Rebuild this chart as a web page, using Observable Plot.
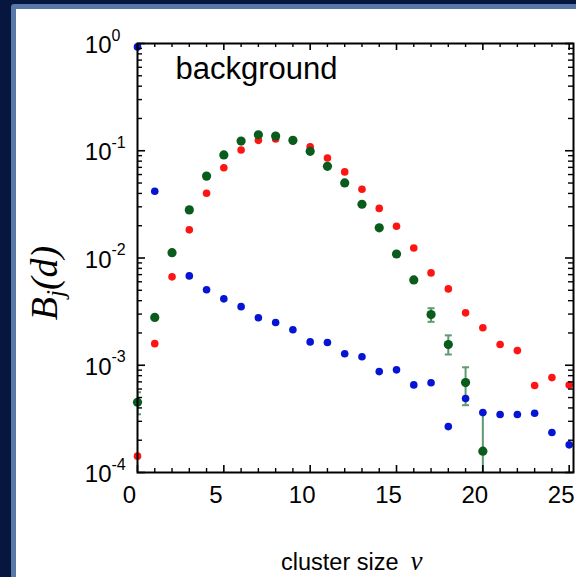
<!DOCTYPE html>
<html><head><meta charset="utf-8">
<script src="https://cdn.jsdelivr.net/npm/d3@7"></script>
<script src="https://cdn.jsdelivr.net/npm/@observablehq/plot@0.6"></script>
<style>
html,body{margin:0;padding:0;background:#06163e;}
#wrap{position:relative;width:576px;height:577px;overflow:hidden;background:#06163e;}
#strip{position:absolute;left:11px;top:4px;right:0;bottom:0;background:#5878a6;border-top-left-radius:3px;}
#panel{position:absolute;left:16px;top:9px;right:0;bottom:0;background:#fff;}
#chart{position:absolute;left:0;top:0;}
</style></head><body>
<div id="wrap"><div id="strip"></div><div id="panel"></div><div id="chart"></div></div>
<script>
// cluster size (x)
const clusterSize = [0,1,2,3,4,5,6,7,8,9,10,11,12,13,14,15,16,17,18,19,20,21,22,23,24,25];
// blue series
const blueVals = [0.93,0.0419,null,0.00681,0.00505,0.00416,0.00352,0.00277,0.0025,0.00214,0.00165,0.00163,0.00128,0.0012,0.000873,0.000906,0.000656,0.000686,0.000268,0.00049,0.000362,0.000347,0.000347,0.000357,0.000236,0.000181];
// red series
const redVals = [0.000142,0.00159,0.00667,0.0183,0.0401,0.0695,0.1017,0.125,0.129,0.123,0.109,0.0857,0.0635,0.0437,0.029,0.0198,0.0124,0.00726,0.00515,0.00308,0.00224,0.00156,0.00137,0.000647,0.000767,0.000655];
// green series (background)
const greenVals = [0.000452,0.00279,0.0112,0.0281,0.058,0.0914,0.123,0.141,0.137,0.125,0.0987,0.0716,0.0501,0.0317,0.0191,0.0109,0.00625,0.00297,0.00156,0.00069,0.000158];
// green error bars
const errX = [0,17,18,19,20];
const errLo = [0.000349,0.00254,0.00126,0.000424,0.00003];
const errHi = [0.00056,0.0034,0.0019,0.000957,0.000362];
// ticks
const xMajor = [0,5,10,15,20,25];
const xMinor = [1,2,3,4,6,7,8,9,11,12,13,14,16,17,18,19,21,22,23,24];
const yMajor = [1e-4,1e-3,1e-2,1e-1,1];
const yExp = ["-4","-3","-2","-1","0"];
const yMinor = [2,3,4,5,6,7,8,9].flatMap(m => [1e-4,1e-3,1e-2,1e-1].map(p => m*p));

const W=576,H=577,mL=137,mR=3,mT=43,mB=105;
const pw=W-mL-mR, ph=H-mT-mB;
const rows = vals => clusterSize.map((x,i)=>({x, v: vals[i]})).filter(d => d.v != null);
const errRows = errX.map((x,i)=>({x, lo: errLo[i], hi: errHi[i]}));
const cap = {draw(ctx){ ctx.moveTo(-3.5,0); ctx.lineTo(3.5,0); }};
const sans = "Liberation Sans, Arial, sans-serif";

const chart = Plot.plot({
  width: W, height: H,
  marginLeft: mL, marginRight: mR, marginTop: mT, marginBottom: mB,
  style: {background: "transparent", fontFamily: sans, overflow: "visible"},
  x: {domain: [0, 25.25], axis: null},
  y: {type: "log", domain: [1e-4, 1], axis: null},
  marks: [
    // error bars
    Plot.ruleX(errRows, {x: "x", y1: "lo", y2: "hi", stroke: "#5f9a70", strokeWidth: 2, clip: true}),
    Plot.dot(errRows, {x: "x", y: "lo", symbol: cap, stroke: "#5f9a70", strokeWidth: 2, fill: "none", clip: true}),
    Plot.dot(errRows, {x: "x", y: "hi", symbol: cap, stroke: "#5f9a70", strokeWidth: 2, fill: "none", clip: true}),
    // series
    Plot.dot(rows(redVals), {x: "x", y: "v", r: 3.8, fill: "#ff1414"}),
    Plot.dot(rows(greenVals), {x: "x", y: "v", r: 4.6, fill: "#0a5c1c"}),
    Plot.dot(rows(blueVals), {x: "x", y: "v", r: 3.8, fill: "#0614d4"}),
    // frame
    Plot.frame({stroke: "black", strokeWidth: 2}),
    // inward ticks
    Plot.tickY(yMajor, {y: d => d, insetRight: pw - 8, stroke: "black", strokeWidth: 1.6}),
    Plot.tickY(yMinor, {y: d => d, insetRight: pw - 5, stroke: "black", strokeWidth: 1.4}),
    Plot.tickY(yMajor, {y: d => d, insetLeft: pw - 8, stroke: "black", strokeWidth: 1.6}),
    Plot.tickY(yMinor, {y: d => d, insetLeft: pw - 5, stroke: "black", strokeWidth: 1.4}),
    Plot.tickX(xMajor, {x: d => d, insetTop: ph - 7, stroke: "black", strokeWidth: 1.6}),
    Plot.tickX(xMinor, {x: d => d, insetTop: ph - 4, stroke: "black", strokeWidth: 1.4}),
    Plot.tickX(xMajor, {x: d => d, insetBottom: ph - 7, stroke: "black", strokeWidth: 1.6}),
    Plot.tickX(xMinor, {x: d => d, insetBottom: ph - 4, stroke: "black", strokeWidth: 1.4}),
    // y tick labels 10^n
    Plot.text(yMajor, {y: d => d, frameAnchor: "left", text: () => "10", textAnchor: "end", dx: -26, dy: 2, fontSize: 24, fill: "black"}),
    Plot.text(yMajor, {y: d => d, frameAnchor: "left", text: (d,i) => yExp[i], textAnchor: "start", dx: -26, dy: -8, fontSize: 16, fill: "black"}),
    // x tick labels
    Plot.text(xMajor, {x: d => d, frameAnchor: "bottom", text: d => String(d), dx: -8, dy: 30, fontSize: 24, fill: "black"}),
    // annotation
    Plot.text(["background"], {frameAnchor: "top-left", text: d => d, textAnchor: "start", lineAnchor: "top", dx: 38, dy: 13, fontSize: 31, fill: "black"})
  ]
});
document.getElementById("chart").appendChild(chart);

const svg = d3.select(chart);
// y axis label
const yl = svg.append("text")
  .attr("transform", "translate(57,283) rotate(-90)")
  .attr("text-anchor", "middle")
  .attr("font-family", "Liberation Serif, Times New Roman, serif")
  .attr("font-style", "italic")
  .attr("font-size", 38)
  .attr("fill", "black");
yl.append("tspan").text("B");
yl.append("tspan").attr("font-size", 25).attr("dy", 7).text("j");
yl.append("tspan").attr("dy", -7).text("(d)");
// x axis label
const xl = svg.append("text")
  .attr("x", 281).attr("y", 570)
  .attr("text-anchor", "start")
  .attr("font-family", sans)
  .attr("font-size", 23.5)
  .attr("fill", "black");
xl.append("tspan").text("cluster size");
xl.append("tspan").attr("dx", 12).attr("font-family", "Liberation Serif, serif").attr("font-style", "italic").attr("font-size", 27).text("ν");
</script>
</body></html>
